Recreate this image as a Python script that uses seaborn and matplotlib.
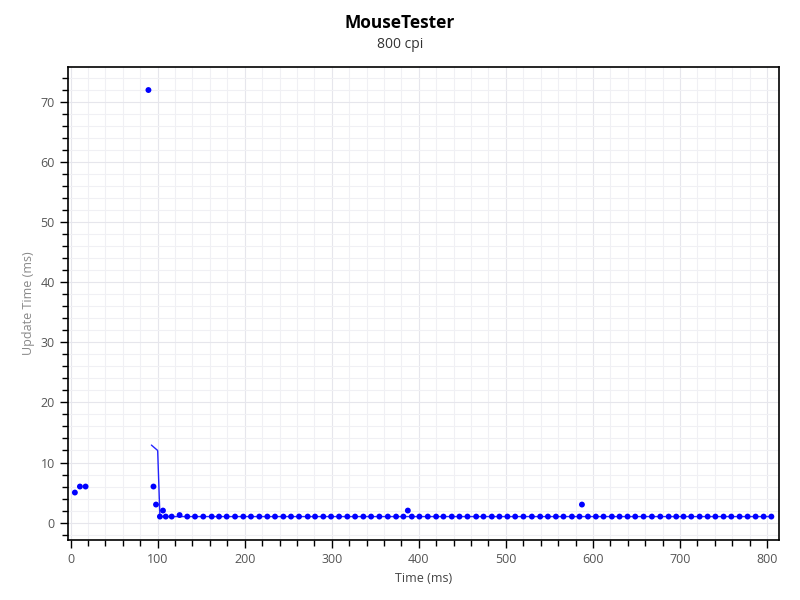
import pandas as pd
import seaborn as sns
import matplotlib.pyplot as plt
from matplotlib.ticker import MultipleLocator

# sample times (ms) and update times (ms)
times = [4.9, 10.7, 17.2, 89.4, 95.2, 98.1, 102.6, 106.1, 109.3, 116.1, 125.2,
         134.0, 142.9, 152.4, 162.1, 170.5, 179.3, 188.9, 198.4, 207.2, 216.8,
         226.0, 234.8, 244.4, 253.2, 262.4, 272.4, 280.8, 290.3, 299.2, 308.4,
         317.9, 326.8, 336.3, 345.2, 354.7, 364.4, 373.9, 382.3, 387.4, 392.0,
         400.7, 410.3, 419.9, 428.3, 437.9, 446.7, 455.9, 465.9, 474.3, 483.9,
         492.6, 501.8, 510.7, 520.2, 529.9, 539.4, 548.3, 557.5, 566.2, 575.9,
         584.6, 587.4, 594.3, 603.4, 612.2, 621.8, 630.6, 639.8, 648.6, 658.2,
         667.8, 677.4, 687.0, 695.7, 704.1, 713.0, 722.6, 731.8, 740.7, 750.1,
         759.0, 768.5, 777.7, 786.9, 796.1, 805.0]
updates = [5, 6, 6, 72, 6, 3, 1, 2, 1, 1, 1.25,
           1, 1, 1, 1, 1, 1, 1, 1, 1, 1,
           1, 1, 1, 1, 1, 1, 1, 1, 1, 1,
           1, 1, 1, 1, 1, 1, 1, 1, 2, 1,
           1, 1, 1, 1, 1, 1, 1, 1, 1, 1,
           1, 1, 1, 1, 1, 1, 1, 1, 1, 1,
           1, 3, 1, 1, 1, 1, 1, 1, 1, 1,
           1, 1, 1, 1, 1, 1, 1, 1, 1, 1,
           1, 1, 1, 1, 1, 1]

# trend line
line_t = [92.8, 100.0, 102.6, 109.3, 805.0]
line_v = [12.9, 12.0, 1.0, 1.0, 1.0]

df = pd.DataFrame({'Time': times, 'Update': updates})
df_line = pd.DataFrame({'Time': line_t, 'Update': line_v})

sns.set_style('white')
plt.rcParams['font.family'] = ['Open Sans', 'DejaVu Sans']

fig = plt.figure(figsize=(8, 6), dpi=100)
ax = fig.add_axes([0.085, 0.1, 0.889, 0.788])

ax.xaxis.set_major_locator(MultipleLocator(100))
ax.xaxis.set_minor_locator(MultipleLocator(20))
ax.yaxis.set_major_locator(MultipleLocator(10))
ax.yaxis.set_minor_locator(MultipleLocator(2))
ax.grid(True, which='major', color='#e6e6ec', linewidth=0.8)
ax.grid(True, which='minor', color='#f0f0f4', linewidth=0.8)
ax.set_axisbelow(True)

sns.lineplot(x='Time', y='Update', data=df_line, color='#0000ff', linewidth=1.0,
             alpha=0.85, ax=ax, sort=False)
sns.scatterplot(x='Time', y='Update', data=df, color='#0000ff', s=18,
                edgecolor='none', ax=ax, zorder=3)

ax.set_xlim(-3, 814)
ax.set_ylim(-2.9, 75.8)

for sp in ax.spines.values():
    sp.set_visible(True)
    sp.set_color('black')
    sp.set_linewidth(1.2)

ax.tick_params(which='major', direction='out', length=6, width=1, color='black',
               labelcolor='#555555', labelsize=9, bottom=True, left=True)
ax.tick_params(which='minor', direction='out', length=4, width=1, color='black',
               bottom=True, left=True)

ax.set_xlabel('Time (ms)', color='#444444', fontsize=9)
ax.set_ylabel('Update Time (ms)', color='#888888', fontsize=9)

fig.text(0.5, 0.962, 'MouseTester', ha='center', va='center', fontsize=12.5,
         fontweight='bold', color='black')
fig.text(0.5, 0.925, '800 cpi', ha='center', va='center', fontsize=10,
         color='#333333')

plt.savefig('out.png', dpi=100)
